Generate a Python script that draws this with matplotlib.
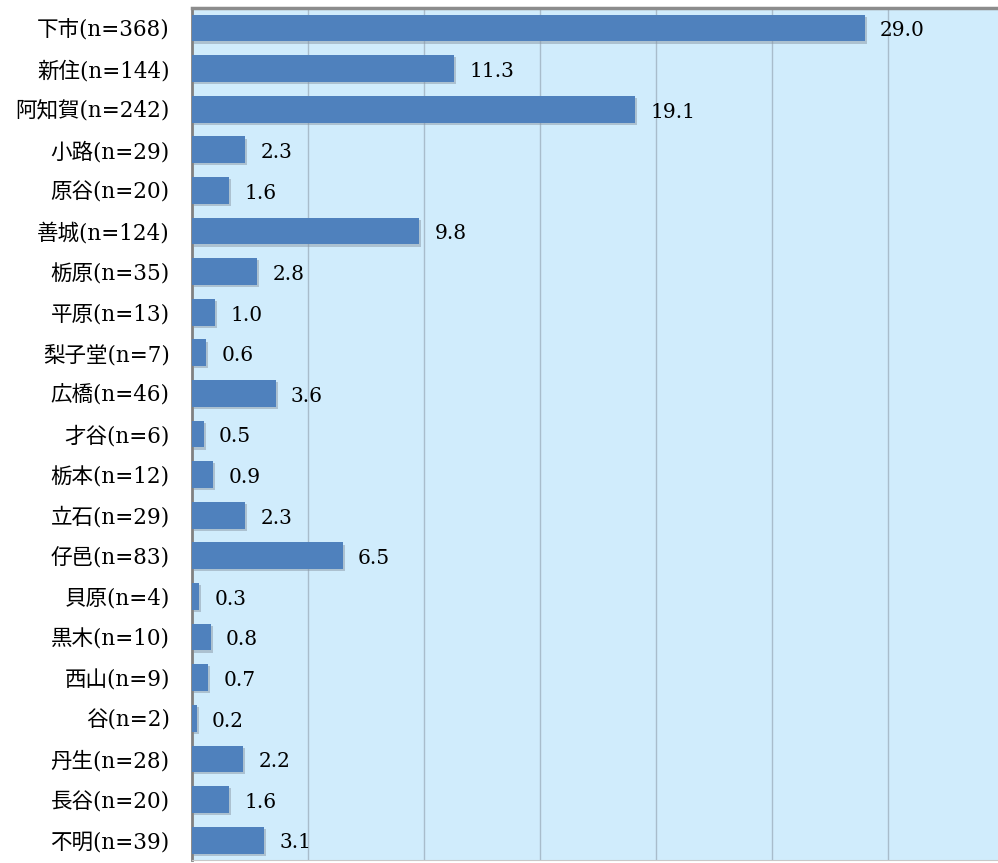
import matplotlib.pyplot as plt
import matplotlib.patheffects as pe
import numpy as np

# Data
areas = ['下市(n=368)', '新住(n=144)', '阿知賀(n=242)', '小路(n=29)', '原谷(n=20)',
         '善城(n=124)', '栃原(n=35)', '平原(n=13)', '梨子堂(n=7)', '広橋(n=46)',
         '才谷(n=6)', '栃本(n=12)', '立石(n=29)', '仔邑(n=83)', '貝原(n=4)',
         '黒木(n=10)', '西山(n=9)', '谷(n=2)', '丹生(n=28)', '長谷(n=20)', '不明(n=39)']
values = [29.0, 11.3, 19.1, 2.3, 1.6, 9.8, 2.8, 1.0, 0.6, 3.6,
          0.5, 0.9, 2.3, 6.5, 0.3, 0.8, 0.7, 0.2, 2.2, 1.6, 3.1]

fonts = ['DejaVu Serif', 'Noto Sans CJK JP', 'DejaVu Sans']

fig = plt.figure(figsize=(9.98, 8.63), dpi=100)
ax = fig.add_axes([0.1924, 0.003, 0.8076, 0.988])
ax.set_facecolor('#D0ECFC')

y = np.arange(len(areas))
bars = ax.barh(y, values, height=0.66, color='#4F81BD', zorder=3)
for b in bars:
    b.set_path_effects([pe.SimplePatchShadow(offset=(1.5, -1.5), shadow_rgbFace='#8a98a6', alpha=0.5),
                        pe.Normal()])

# value labels
for yi, v in zip(y, values):
    ax.annotate(f'{v:.1f}', xy=(v, yi), xytext=(11, -2), textcoords='offset points',
                va='center', ha='left', fontsize=14.5, family=fonts, zorder=4)

ax.set_xlim(0, 34.75)
ax.set_ylim(len(areas) - 0.5, -0.5)
ax.set_xticks(np.arange(5, 35, 5))
ax.xaxis.grid(True, color='#a8bccb', linewidth=1.0, zorder=1)
ax.tick_params(axis='x', length=0, labelbottom=False)
ax.tick_params(axis='y', length=0, pad=16)
ax.set_yticks(y)
ax.set_yticklabels(areas, fontsize=15.5, family=fonts)

ax.spines['right'].set_visible(False)
ax.spines['left'].set_color('#808080')
ax.spines['left'].set_linewidth(2)
ax.spines['top'].set_color('#8c8c8c')
ax.spines['top'].set_linewidth(2.5)
ax.spines['bottom'].set_color('#c8c8c8')

plt.savefig('out.png', dpi=100)
